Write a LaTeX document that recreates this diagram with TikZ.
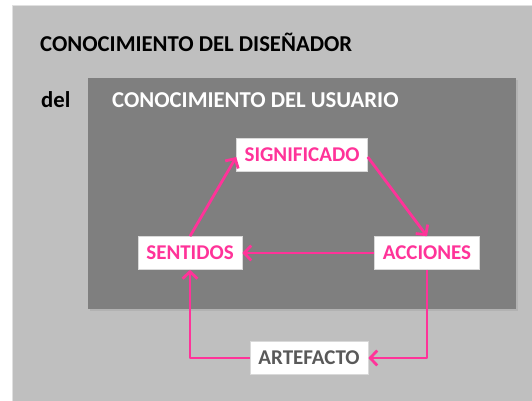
\documentclass[tikz,border=0pt]{standalone}
\usepackage{fontspec}
\setmainfont{Carlito}
\usetikzlibrary{arrows.meta,calc}
\definecolor{outergray}{HTML}{BFBFBF}
\definecolor{innergray}{HTML}{7F7F7F}
\definecolor{hotpink}{HTML}{FF3399}
\definecolor{darktext}{HTML}{595959}
\tikzset{
  box/.style={fill=white, draw=black!15, line width=0.6pt, minimum height=33pt, inner sep=0pt, font=\fontsize{21}{24}\selectfont\bfseries},
  pinkbox/.style={box, text=hotpink},
  flow/.style={draw=hotpink, line width=2.8pt, -{Straight Barb[length=7pt,width=15pt,line width=2.8pt]}},
  title/.style={anchor=base west, inner sep=0pt, font=\fontsize{22.7}{26}\selectfont\bfseries}
}
\begin{document}
\begin{tikzpicture}[x=1pt,y=-1pt]
\useasboundingbox (0,0) rectangle (532,401);
\fill[white] (0,0) rectangle (532,401);
% outer panel
\fill[black!12] (12,5) rectangle (532,401);
\fill[outergray] (13,6) rectangle (532,401);
% inner panel with shadow
\fill[black!35, opacity=0.5] (90,80) rectangle (518,311);
\fill[innergray] (88,78) rectangle (516,309);
% titles
\node[title, text=black] (t1) at (40,52) {CONOCIMIENTO DEL DISEÑADOR};
\node[title, text=black] (t2) at (41,108) {del};
\node[title, text=white] (t3) at (112,108) {CONOCIMIENTO DEL USUARIO};
% boxes
\node[pinkbox, minimum width=131pt] (sig) at (302,155) {SIGNIFICADO};
\node[pinkbox, minimum width=104pt] (sen) at (190,253) {SENTIDOS};
\node[pinkbox, minimum width=105pt] (acc) at (427,253) {ACCIONES};
\node[box, text=darktext, minimum width=118pt] (art) at (309,358) {ARTEFACTO};
% connectors
\draw[flow] (sen.north) -- ($(sig.west)+(0,2)$);
\draw[flow] ($(sig.east)+(0,2)$) -- (acc.north);
\draw[flow] (acc.west) -- (sen.east);
\draw[flow, line join=round] (acc.south) |- (art.east);
\draw[flow, line join=round] (art.west) -| (sen.south);
\end{tikzpicture}
\end{document}
